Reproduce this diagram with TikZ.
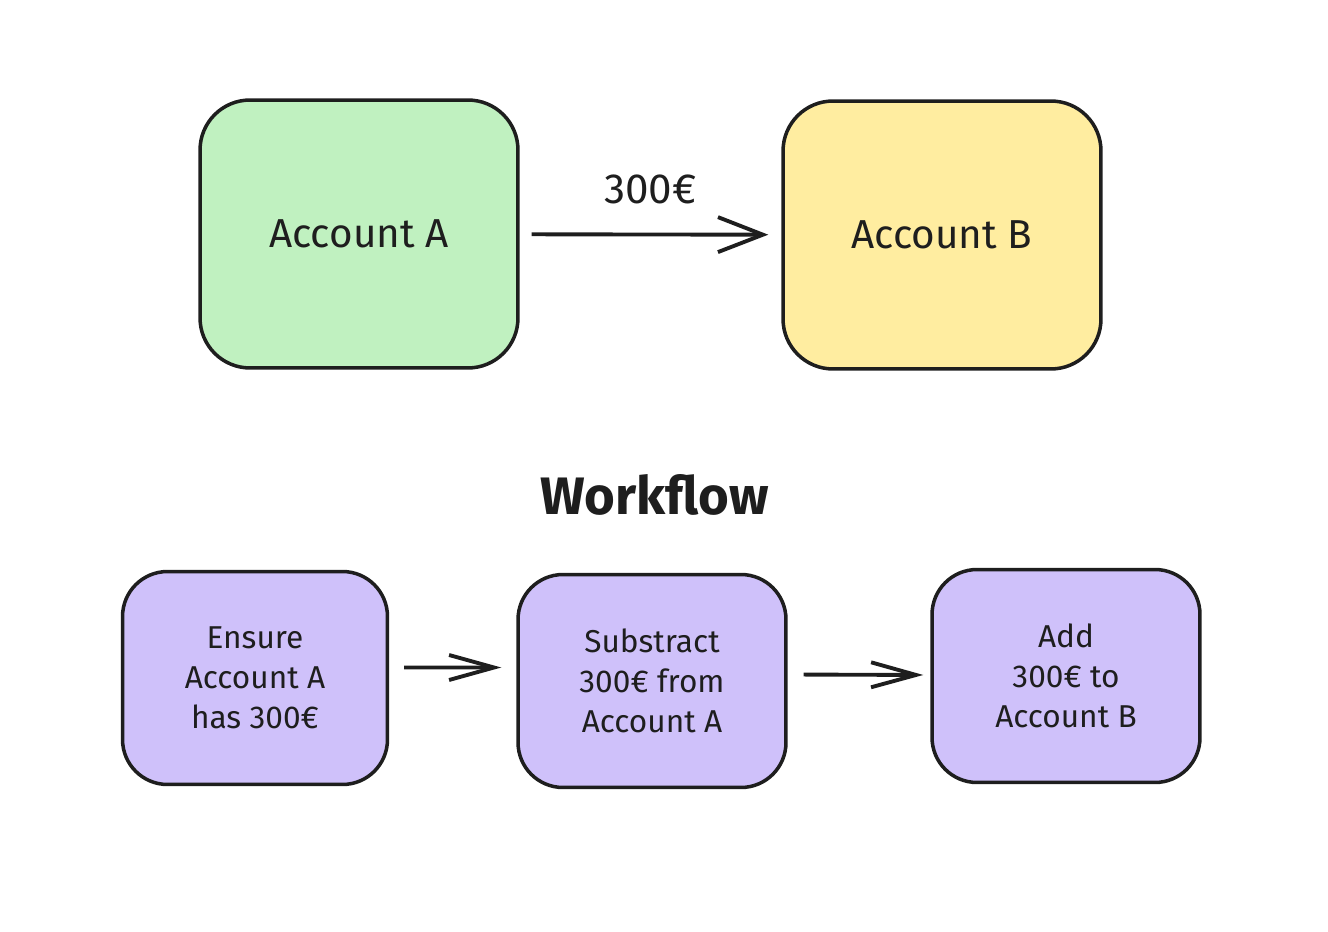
\documentclass[tikz,border=0pt]{standalone}
\usepackage{fontspec}
\setmainfont{Fira Sans}
\usetikzlibrary{arrows.meta,positioning}
\definecolor{inkc}{HTML}{1E1E1E}
\definecolor{greenc}{HTML}{C0F1C0}
\definecolor{yellowc}{HTML}{FFEDA0}
\definecolor{violetc}{HTML}{CFC1FA}
\begin{document}
\begin{tikzpicture}[x=0.02cm, y=-0.02cm, auto, >={Straight Barb[length=0.9cm,width=0.7cm,line width=2.2pt]},
                    every edge/.style={draw=inkc, line width=2.2pt},
                    account/.style={draw=inkc, line width=2pt, rounded corners=1cm,
                                    minimum width=6.36cm, minimum height=5.36cm,
                                    font=\fontsize{23}{27}\selectfont, text=inkc},
                    task/.style={draw=inkc, line width=2pt, rounded corners=0.9cm, fill=violetc,
                                 minimum width=5.3cm, minimum height=4.26cm, align=center,
                                 font=\fontsize{18}{22.7}\selectfont, text=inkc}]

\useasboundingbox (0,0) rectangle (1328,932);

\node[account, fill=greenc] (A) at (359,234) {Account A};
\node[account, fill=yellowc] (B) at (942,235) {Account B};

\node[font=\fontsize{30}{34}\selectfont\bfseries, text=inkc] (W) at (655,495) {Workflow};

\node[task] (T1) at (255,678) {Ensure\\Account A\\has 300€};
\node[task, minimum width=5.36cm] (T2) at (652,681) {Substract\\300€ from\\Account A};
\node[task, minimum width=5.36cm] (T3) at (1066,676) {Add\\300€ to\\Account B};

\path[->]
(A) edge [shorten <=0.24cm, shorten >=0.26cm] node [text=inkc, font=\fontsize{24}{28}\selectfont, yshift=0.45cm] {300€} (B)
([yshift=0.21cm]T1.east) edge [shorten <=0.3cm, shorten >=0.3cm, >={Straight Barb[length=0.9cm,width=0.5cm,line width=2.2pt]}] ([yshift=0.27cm]T2.west)
([yshift=0.13cm]T2.east) edge [shorten <=0.32cm, shorten >=0.14cm, >={Straight Barb[length=0.9cm,width=0.5cm,line width=2.2pt]}] ([yshift=0.02cm]T3.west);
\end{tikzpicture}
\end{document}
